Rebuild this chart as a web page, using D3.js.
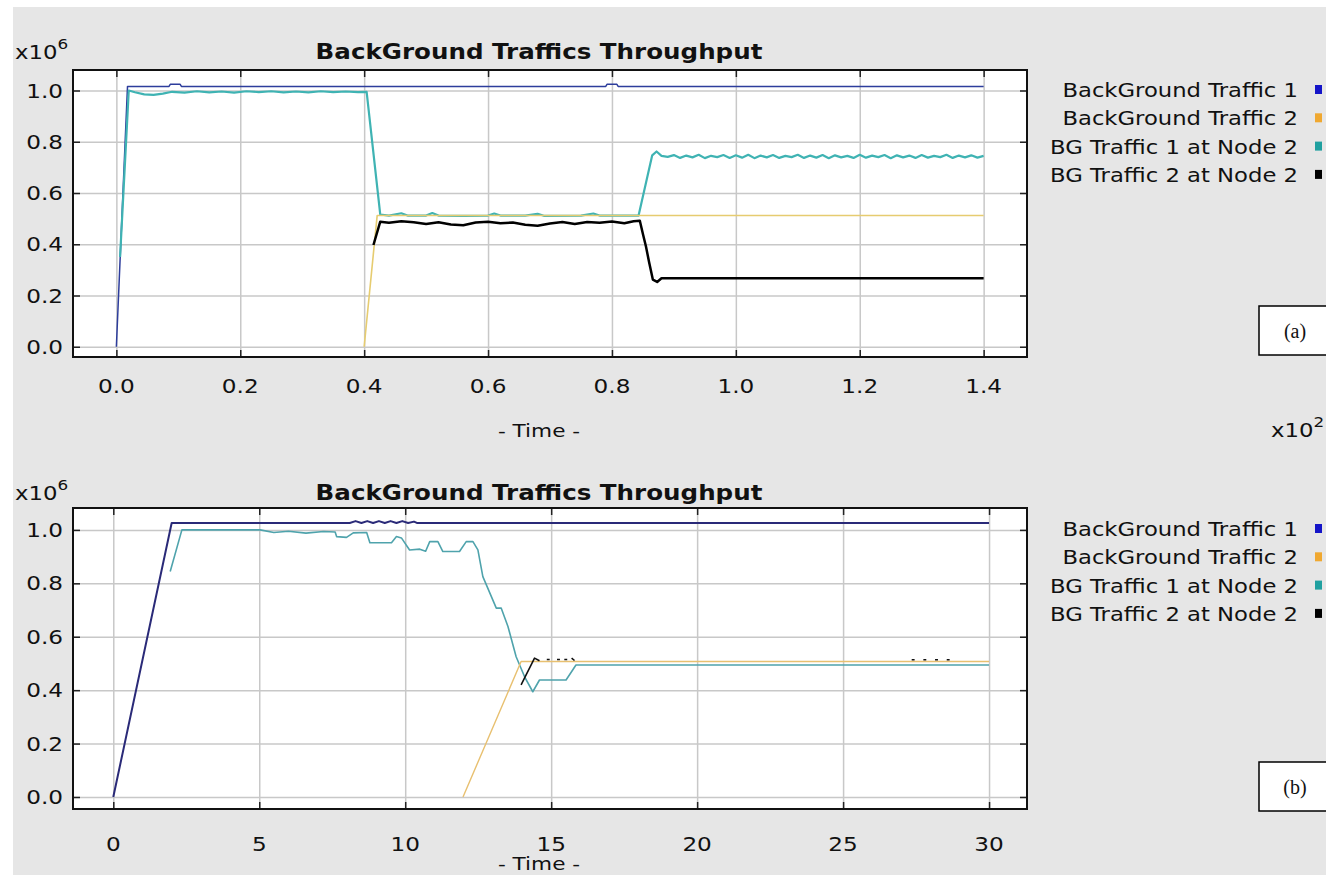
<!DOCTYPE html>
<html>
<head>
<meta charset="utf-8">
<script src="https://cdn.jsdelivr.net/npm/d3@7"></script>
<style>
  body { margin: 0; background: #fff; }
  text { font-family: 'DejaVu Sans', sans-serif; fill: #111; }
</style>
</head>
<body>
<svg id="page" width="1326" height="875"></svg>
<script>
// legend entries, same for both panels
const seriesNames = ['BackGround Traffic 1', 'BackGround Traffic 2', 'BG Traffic 1 at Node 2', 'BG Traffic 2 at Node 2']
const yTicks = [0.0, 0.2, 0.4, 0.6, 0.8, 1.0]
const topXTicks = [0.0, 0.2, 0.4, 0.6, 0.8, 1.0, 1.2, 1.4]
const botXTicks = [0, 5, 10, 15, 20, 25, 30]

// panel (a): [time, throughput x10^6]
const topBg1 = [[0, 0], [0.018, 1.016], [0.085, 1.016], [0.087, 1.024], [0.103, 1.024], [0.105, 1.016],
  [0.79, 1.016], [0.792, 1.024], [0.808, 1.024], [0.81, 1.016], [1.4, 1.016]]
const topBg2 = [[0.4, 0], [0.421, 0.512], [1.4, 0.512]]
const topNode1 = [[0.006, 0.35], [0.02, 1.0], [0.03, 0.993], [0.045, 0.985], [0.06, 0.983], [0.075, 0.988],
  [0.09, 0.995], [0.11, 0.992], [0.13, 0.997], [0.15, 0.993], [0.17, 0.996], [0.19, 0.992], [0.21, 0.997],
  [0.23, 0.994], [0.25, 0.997], [0.27, 0.993], [0.29, 0.996], [0.31, 0.993], [0.33, 0.997], [0.35, 0.994],
  [0.37, 0.996], [0.39, 0.994], [0.404, 0.995], [0.426, 0.516], [0.44, 0.512], [0.46, 0.521], [0.47, 0.512],
  [0.5, 0.512], [0.51, 0.522], [0.52, 0.512], [0.56, 0.511], [0.6, 0.512], [0.61, 0.52], [0.62, 0.512],
  [0.66, 0.512], [0.68, 0.519], [0.69, 0.511], [0.75, 0.512], [0.77, 0.52], [0.78, 0.512], [0.843, 0.512],
  [0.865, 0.747], [0.872, 0.762], [0.88, 0.745], [0.89, 0.741], [0.9, 0.748], [0.91, 0.737], [0.92, 0.746],
  [0.93, 0.739], [0.94, 0.749], [0.95, 0.736], [0.96, 0.745], [0.97, 0.74], [0.98, 0.748], [0.99, 0.737],
  [1.0, 0.747], [1.01, 0.738], [1.02, 0.749], [1.03, 0.736], [1.04, 0.746], [1.05, 0.739], [1.06, 0.748],
  [1.07, 0.737], [1.08, 0.745], [1.09, 0.74], [1.1, 0.749], [1.11, 0.737], [1.12, 0.746], [1.13, 0.738],
  [1.14, 0.748], [1.15, 0.736], [1.16, 0.747], [1.17, 0.739], [1.18, 0.745], [1.19, 0.737], [1.2, 0.749],
  [1.21, 0.738], [1.22, 0.746], [1.23, 0.74], [1.24, 0.748], [1.25, 0.736], [1.26, 0.747], [1.27, 0.739],
  [1.28, 0.746], [1.29, 0.737], [1.3, 0.748], [1.31, 0.738], [1.32, 0.745], [1.33, 0.74], [1.34, 0.749],
  [1.35, 0.737], [1.36, 0.746], [1.37, 0.739], [1.38, 0.747], [1.39, 0.738], [1.4, 0.745]]
const topNode2 = [[0.415, 0.397], [0.426, 0.488], [0.44, 0.484], [0.46, 0.49], [0.48, 0.486], [0.5, 0.479],
  [0.52, 0.486], [0.54, 0.477], [0.56, 0.474], [0.58, 0.485], [0.6, 0.488], [0.62, 0.482], [0.64, 0.485],
  [0.66, 0.476], [0.68, 0.472], [0.7, 0.481], [0.72, 0.487], [0.74, 0.479], [0.76, 0.487], [0.78, 0.484],
  [0.8, 0.489], [0.82, 0.482], [0.835, 0.49], [0.845, 0.492], [0.85, 0.44], [0.855, 0.39], [0.86, 0.33],
  [0.866, 0.262], [0.873, 0.253], [0.88, 0.267], [1.4, 0.267]]

// panel (b)
const botBg1 = [[0, 0], [2.0, 1.026], [8.1, 1.026], [8.3, 1.033], [8.5, 1.026], [8.7, 1.033], [8.9, 1.026],
  [9.1, 1.033], [9.3, 1.026], [9.5, 1.033], [9.7, 1.026], [9.9, 1.033], [10.1, 1.026], [10.3, 1.031],
  [10.4, 1.026], [30, 1.026]]
const botBg2 = [[11.98, 0], [13.97, 0.507], [30, 0.507]]
const botNode1 = [[1.95, 0.844], [2.35, 1.0], [5.03, 1.0], [5.5, 0.99], [6.0, 0.995], [6.6, 0.988],
  [7.2, 0.994], [7.6, 0.992], [7.65, 0.975], [7.99, 0.972], [8.22, 0.989], [8.68, 0.99], [8.79, 0.952],
  [9.53, 0.952], [9.7, 0.975], [9.87, 0.97], [10.15, 0.925], [10.5, 0.928], [10.7, 0.92], [10.84, 0.956],
  [11.12, 0.956], [11.29, 0.919], [11.86, 0.919], [12.09, 0.956], [12.32, 0.956], [12.49, 0.925],
  [12.66, 0.825], [13.12, 0.707], [13.29, 0.707], [13.52, 0.638], [13.8, 0.525], [14.09, 0.45],
  [14.37, 0.394], [14.6, 0.438], [15.51, 0.438], [15.85, 0.494], [30, 0.494]]
// null marks a gap: only the peaks of this series stick out above the others
const botNode2 = [[13.97, 0.42], [14.43, 0.52], [14.6, 0.51], [14.65, null],
  [14.85, 0.515], [14.95, 0.515], [15.0, null], [15.2, 0.515], [15.3, 0.515], [15.35, null],
  [15.45, 0.515], [15.55, 0.515], [15.6, null], [15.7, 0.52], [15.8, 0.511], [15.85, null],
  [27.35, 0.514], [27.45, 0.514], [27.5, null], [27.75, 0.514], [27.85, 0.514], [27.9, null],
  [28.15, 0.514], [28.25, 0.514], [28.3, null], [28.55, 0.514], [28.65, 0.514]]

const legendColors = ['#1414c8', '#f0a830', '#20a0a0', '#000']

let svg = d3.select('#page')

svg.append('rect').attr('x', 13).attr('y', 7).attr('width', 1313).attr('height', 868).attr('fill', '#e6e6e6')

// horizontally stretched text, the original Java font is wider than DejaVu
function label (parent, x, y, str, size, sx, anchor, weight) {
  return parent.append('text')
    .attr('transform', 'translate(' + x + ',' + y + ') scale(' + sx + ',1)')
    .attr('text-anchor', anchor || 'start')
    .style('font-size', size + 'px')
    .style('font-weight', weight || 'normal')
    .text(str)
}

function drawPanel (opt) {
  let g = svg.append('g')
  let w = opt.right - opt.left
  let h = opt.bottom - opt.top

  let x = d3.scaleLinear().domain(opt.xDomain).range([opt.left, opt.right])
  let y = d3.scaleLinear().domain(opt.yDomain).range([opt.bottom, opt.top])

  g.append('rect').attr('x', opt.left).attr('y', opt.top).attr('width', w).attr('height', h).attr('fill', '#fff')

  // grid
  g.append('g').attr('class', 'grid')
    .attr('transform', 'translate(0,' + opt.bottom + ')')
    .call(d3.axisBottom(x).tickValues(opt.xTicks).tickSize(-h).tickFormat(''))
  g.append('g').attr('class', 'grid')
    .attr('transform', 'translate(' + opt.left + ',0)')
    .call(d3.axisLeft(y).tickValues(yTicks).tickSize(-w).tickFormat(''))
  g.selectAll('.grid line').attr('stroke', '#c8c8c8').attr('stroke-width', 1.5)

  // inward tick marks on all four sides
  let tk = 7
  g.append('g').attr('class', 'tk').attr('transform', 'translate(0,' + opt.bottom + ')')
    .call(d3.axisBottom(x).tickValues(opt.xTicks).tickSize(-tk).tickFormat(''))
  g.append('g').attr('class', 'tk').attr('transform', 'translate(0,' + opt.top + ')')
    .call(d3.axisTop(x).tickValues(opt.xTicks).tickSize(-tk).tickFormat(''))
  g.append('g').attr('class', 'tk').attr('transform', 'translate(' + opt.left + ',0)')
    .call(d3.axisLeft(y).tickValues(yTicks).tickSize(-tk).tickFormat(''))
  g.append('g').attr('class', 'tk').attr('transform', 'translate(' + opt.right + ',0)')
    .call(d3.axisRight(y).tickValues(yTicks).tickSize(-tk).tickFormat(''))
  g.selectAll('.tk line').attr('stroke', '#222').attr('stroke-width', 1.5)
  g.selectAll('.domain').remove()

  // series
  g.append('clipPath').attr('id', opt.id + '-clip')
    .append('rect').attr('x', opt.left).attr('y', opt.top).attr('width', w).attr('height', h)

  let line = d3.line()
    .defined(d => d[1] != null)
    .x(d => x(d[0]))
    .y(d => y(d[1]))

  let lines = g.append('g').attr('clip-path', 'url(#' + opt.id + '-clip)')
  opt.series.forEach(function (s) {
    lines.append('path')
      .datum(s.data)
      .attr('d', line)
      .attr('fill', 'none')
      .attr('stroke', s.color)
      .attr('stroke-width', s.width)
      .attr('stroke-linejoin', 'round')
  })

  g.append('rect').attr('x', opt.left).attr('y', opt.top).attr('width', w).attr('height', h)
    .attr('fill', 'none').attr('stroke', '#111').attr('stroke-width', 2)

  // tick labels
  yTicks.forEach(function (v) {
    label(g, 63, y(v) + 7, d3.format('.1f')(v), 19, 1.22, 'end')
  })
  opt.xTicks.forEach(function (v) {
    label(g, x(v), opt.xLabelY, opt.xFormat(v), 19, 1.22, 'middle')
  })

  label(g, (opt.left + opt.right) / 2 - 11, opt.titleY, 'BackGround Traffics Throughput', 21, 1.17, 'middle', 'bold')
  label(g, (opt.left + opt.right) / 2 - 11, opt.timeY, '- Time -', 18, 1.2, 'middle')

  let ex = label(g, 15, opt.titleY, 'x10', 19, 1.2)
  ex.append('tspan').attr('dy', -10).style('font-size', '14px').text('6')

  // legend
  seriesNames.forEach(function (name, i) {
    let by = opt.legendY + i * 28.3
    label(g, 1298, by, name, 19, 1.195, 'end')
    g.append('rect').attr('x', 1315).attr('y', by - 12).attr('width', 7).attr('height', 9)
      .attr('fill', legendColors[i])
  })

  // panel tag box
  g.append('rect').attr('x', 1259).attr('y', opt.tagY).attr('width', 80).attr('height', 49)
    .attr('fill', '#fff').attr('stroke', '#000').attr('stroke-width', 1.5)
  g.append('text').attr('x', 1295).attr('y', opt.tagY + 32)
    .attr('text-anchor', 'middle')
    .style('font-family', "'Liberation Serif', serif")
    .style('font-size', '20px')
    .text(opt.tag)
}

// drawing order: the Node 2 series of traffic 1 sits under traffic 2
drawPanel({
  id: 'a',
  left: 73, right: 1027, top: 70, bottom: 357,
  xDomain: [-0.07, 1.47], yDomain: [-0.04, 1.08],
  xTicks: topXTicks, xFormat: d3.format('.1f'),
  titleY: 59, xLabelY: 393, timeY: 437, legendY: 97,
  tag: '(a)', tagY: 306,
  series: [
    { data: topBg1, color: '#2d3d9c', width: 1.5 },
    { data: topNode1, color: '#3fb3b3', width: 2.2 },
    { data: topBg2, color: '#e6cc70', width: 1.6 },
    { data: topNode2, color: '#000', width: 2.5 }
  ]
})

drawPanel({
  id: 'b',
  left: 73, right: 1027, top: 508, bottom: 809,
  xDomain: [-1.38, 31.3], yDomain: [-0.045, 1.082],
  xTicks: botXTicks, xFormat: d3.format('d'),
  titleY: 500, xLabelY: 851, timeY: 870, legendY: 536,
  tag: '(b)', tagY: 762,
  series: [
    { data: botBg1, color: '#2a2a78', width: 2 },
    { data: botNode1, color: '#4fa3ac', width: 1.6 },
    { data: botBg2, color: '#e8c070', width: 1.4 },
    { data: botNode2, color: '#111', width: 1.6 }
  ]
})

// exponent of the time axis, at the right edge of the page
let ex2 = label(svg, 1271, 437, 'x10', 19, 1.2)
ex2.append('tspan').attr('dy', -10).style('font-size', '14px').text('2')
</script>
</body>
</html>
